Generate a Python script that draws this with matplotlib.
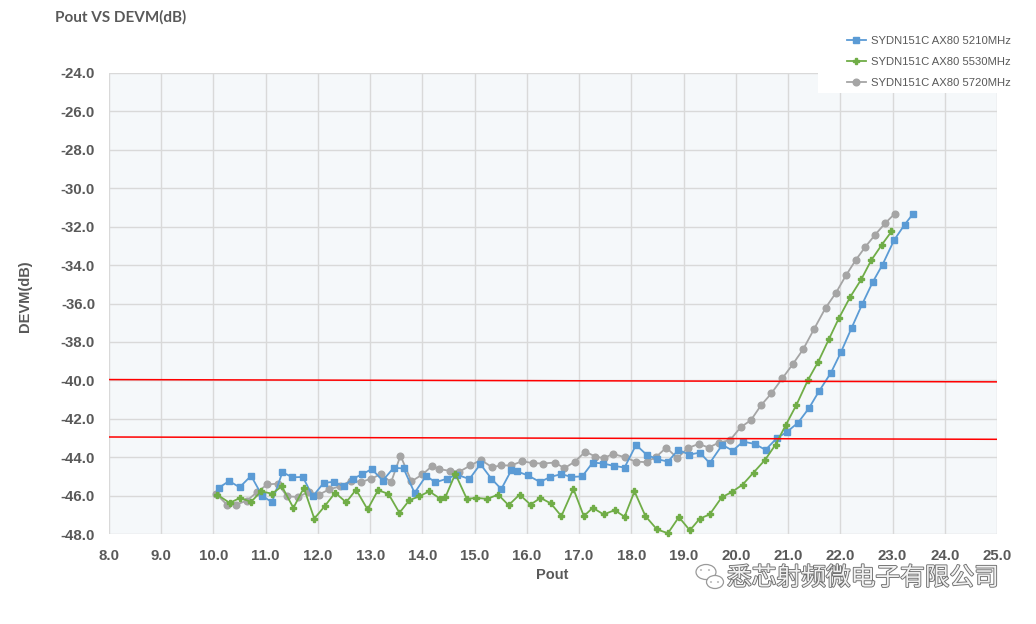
import matplotlib
matplotlib.use("Agg")
import matplotlib.pyplot as plt
from matplotlib.patches import Rectangle, Ellipse, Circle
import matplotlib.patheffects as pe

# ---------------- data ----------------
pout_5210 = [10.10, 10.30, 10.50, 10.72, 10.93, 11.12, 11.32, 11.51, 11.71, 11.90,
             12.11, 12.31, 12.49, 12.67, 12.84, 13.03, 13.24, 13.45, 13.64, 13.85,
             14.07, 14.25, 14.47, 14.66, 14.90, 15.11, 15.32, 15.51, 15.70, 15.81,
             16.02, 16.25, 16.45, 16.66, 16.85, 17.06, 17.26, 17.46, 17.66, 17.87,
             18.09, 18.29, 18.49, 18.70, 18.90, 19.11, 19.31, 19.50, 19.74, 19.94,
             20.14, 20.36, 20.57, 20.78, 20.98, 21.19, 21.40, 21.59, 21.82, 22.01,
             22.22, 22.42, 22.62, 22.81, 23.03, 23.23, 23.39]
devm_5210 = [-45.60, -45.24, -45.57, -44.97, -46.00, -46.35, -44.78, -45.05, -45.03, -46.04,
             -45.34, -45.28, -45.52, -45.12, -44.90, -44.62, -45.22, -44.55, -44.59, -45.86,
             -44.97, -45.31, -45.12, -44.91, -45.14, -44.36, -45.12, -45.66, -44.69, -44.74,
             -44.95, -45.29, -45.03, -44.88, -45.03, -45.00, -44.28, -44.33, -44.45, -44.54,
             -43.36, -43.87, -44.10, -44.23, -43.62, -43.87, -43.76, -44.31, -43.36, -43.66,
             -43.19, -43.31, -43.62, -43.02, -42.68, -42.21, -41.45, -40.58, -39.61, -38.55,
             -37.25, -36.03, -34.89, -33.97, -32.70, -31.90, -31.34]

pout_5530 = [10.07, 10.31, 10.51, 10.72, 10.91, 11.12, 11.31, 11.53, 11.73, 11.93,
             12.13, 12.33, 12.54, 12.73, 12.95, 13.15, 13.35, 13.56, 13.75, 13.94,
             14.13, 14.34, 14.44, 14.63, 14.85, 15.03, 15.24, 15.45, 15.65, 15.86,
             16.07, 16.26, 16.46, 16.66, 16.89, 17.09, 17.26, 17.47, 17.68, 17.87,
             18.06, 18.27, 18.49, 18.70, 18.91, 19.12, 19.31, 19.50, 19.73, 19.92,
             20.13, 20.34, 20.56, 20.76, 20.96, 21.16, 21.38, 21.58, 21.78, 21.97,
             22.19, 22.40, 22.59, 22.79, 22.98]
devm_5530 = [-45.95, -46.38, -46.12, -46.33, -45.78, -45.90, -45.52, -46.64, -45.60, -47.20,
             -46.55, -45.85, -46.35, -45.69, -46.72, -45.72, -45.91, -46.90, -46.24, -46.04,
             -45.78, -46.16, -46.08, -44.87, -46.17, -46.12, -46.17, -45.95, -46.50, -45.95,
             -46.47, -46.12, -46.41, -47.07, -45.65, -47.07, -46.64, -46.98, -46.76, -47.10,
             -45.78, -47.07, -47.76, -47.96, -47.12, -47.81, -47.20, -46.98, -46.09, -45.82,
             -45.43, -44.80, -44.14, -43.35, -42.31, -41.28, -39.99, -39.02, -37.87, -36.78,
             -35.66, -34.75, -33.76, -32.96, -32.25]

pout_5720 = [10.05, 10.26, 10.43, 10.64, 10.84, 11.03, 11.23, 11.41, 11.62, 11.82,
             12.02, 12.22, 12.43, 12.63, 12.83, 13.02, 13.21, 13.40, 13.58, 13.79,
             14.00, 14.19, 14.32, 14.52, 14.71, 14.92, 15.12, 15.33, 15.51, 15.70,
             15.91, 16.11, 16.31, 16.53, 16.72, 16.92, 17.12, 17.31, 17.47, 17.65,
             17.87, 18.08, 18.29, 18.48, 18.67, 18.88, 19.08, 19.29, 19.48, 19.67,
             19.89, 20.09, 20.29, 20.48, 20.68, 20.89, 21.09, 21.29, 21.50, 21.72,
             21.92, 22.11, 22.30, 22.48, 22.67, 22.86, 23.04]
devm_5720 = [-45.91, -46.48, -46.48, -46.26, -45.81, -45.42, -45.38, -46.04, -46.07, -45.81,
             -45.95, -45.67, -45.52, -45.22, -45.29, -45.12, -44.88, -45.31, -43.92, -45.26,
             -44.90, -44.45, -44.62, -44.71, -44.75, -44.43, -44.14, -44.52, -44.43, -44.43,
             -44.21, -44.31, -44.33, -44.28, -44.57, -44.23, -43.71, -43.97, -44.05, -43.83,
             -44.00, -44.23, -44.26, -43.97, -43.50, -44.05, -43.53, -43.31, -43.50, -43.25,
             -43.11, -42.45, -42.07, -41.31, -40.68, -39.90, -39.16, -38.38, -37.32, -36.22,
             -35.43, -34.53, -33.72, -33.05, -32.41, -31.82, -31.33]

series_names = ["SYDN151C AX80 5210MHz", "SYDN151C AX80 5530MHz", "SYDN151C AX80 5720MHz"]

# reference (limit) lines: x ends and y ends
ref_x = [8.0, 25.0]
ref_line_1 = [-39.96, -40.08]
ref_line_2 = [-42.95, -43.07]

x_ticks = [8.0 + i for i in range(18)]
y_ticks = [-24.0 - 2 * i for i in range(13)]

title_text = "Pout VS DEVM(dB)"
x_label = "Pout"
y_label = "DEVM(dB)"
watermark = "悉芯射频微电子有限公司"

# ---------------- figure ----------------
W, H = 1036, 624
fig = plt.figure(figsize=(W / 100, H / 100), dpi=100)
fig.patch.set_facecolor("white")

ax = fig.add_axes([109 / W, 1 - 534 / H, (997 - 109) / W, (534 - 73) / H])
ax.set_facecolor("#F5F8FA")
for s in ax.spines.values():
    s.set_visible(False)

ax.set_xlim(8, 25)
ax.set_ylim(-48, -24)
ax.set_xticks(x_ticks)
ax.set_yticks(y_ticks)
ax.set_xticklabels([f"{v:.1f}" for v in x_ticks])
ax.set_yticklabels([f"{v:.1f}" for v in y_ticks])
ax.grid(True, color="#D9D9D9", linewidth=1.0)
ax.set_axisbelow(True)
ax.tick_params(length=0, labelsize=10.8, labelcolor="#595959")
ax.tick_params(axis="y", pad=10)
ax.tick_params(axis="x", pad=11)
for lab in ax.get_xticklabels() + ax.get_yticklabels():
    lab.set_fontweight("bold")
    lab.set_fontfamily("Liberation Sans")

blue, green, gray = "#5B9BD5", "#70AD47", "#A5A5A5"
l1, = ax.plot(pout_5210, devm_5210, color=blue, lw=1.3, marker="s", ms=4.3,
              label=series_names[0], clip_on=False, zorder=4)
l2, = ax.plot(pout_5530, devm_5530, color=green, lw=1.3, marker="P", ms=4.6,
              label=series_names[1], clip_on=False, zorder=4)
l3, = ax.plot(pout_5720, devm_5720, color=gray, lw=1.3, marker="o", ms=4.8,
              label=series_names[2], clip_on=False, zorder=3)

ax.plot(ref_x, ref_line_1, color="#FF0000", lw=1.1, zorder=5)
ax.plot(ref_x, ref_line_2, color="#FF0000", lw=1.1, zorder=5)

# title and axis labels
fig.text(55 / W, 1 - 17 / H, title_text, fontsize=11, fontweight="bold",
         color="#595959", family="Lato", ha="left", va="center")
fig.text(552 / W, 1 - 575 / H, x_label, fontsize=10.5, fontweight="bold",
         color="#595959", family="Liberation Sans", ha="center", va="center")
fig.text(25 / W, 1 - 296 / H, y_label, fontsize=10.5, fontweight="bold",
         color="#595959", family="Liberation Sans", ha="center", va="center",
         rotation=90)

# legend on a white box
fig.patches.append(Rectangle((818 / W, 1 - 93 / H), 218 / W, 68 / H,
                             transform=fig.transFigure, facecolor="white",
                             edgecolor="none", zorder=3))
leg = fig.legend(handles=[l1, l2, l3], loc="upper left",
                 bbox_to_anchor=(841 / W, 1 - 30 / H), frameon=False,
                 fontsize=8.1, handlelength=1.7, handletextpad=0.5,
                 labelspacing=1.0, borderpad=0)
leg.set_zorder(6)
for t in leg.get_texts():
    t.set_color("#595959")
    t.set_family("Liberation Sans")

# watermark
fig.text(727 / W, 1 - 578 / H, watermark, fontsize=17.8,
         family=["Noto Sans CJK SC", "DejaVu Sans"], color="#F2F2F2",
         ha="left", va="center", fontweight="light",
         path_effects=[pe.withStroke(linewidth=1.3, foreground="#6E6E6E")],
         zorder=7)
# simple chat-bubble icon
fig.patches.append(Ellipse((706 / W, 1 - 572 / H), 20 / W, 15 / H,
                           transform=fig.transFigure, facecolor="none",
                           edgecolor="#9A9A9A", lw=0.9, zorder=7))
fig.patches.append(Ellipse((715 / W, 1 - 582 / H), 17 / W, 13 / H,
                           transform=fig.transFigure, facecolor="white",
                           edgecolor="#9A9A9A", lw=0.9, zorder=7))
for cx, cy in [(701, 570), (709, 570), (711, 582), (718, 582)]:
    fig.patches.append(Circle((cx / W, 1 - cy / H), 1.1 / W,
                              transform=fig.transFigure, facecolor="#9A9A9A",
                              edgecolor="none", zorder=8))

fig.savefig("out.png", dpi=100, facecolor="white")
